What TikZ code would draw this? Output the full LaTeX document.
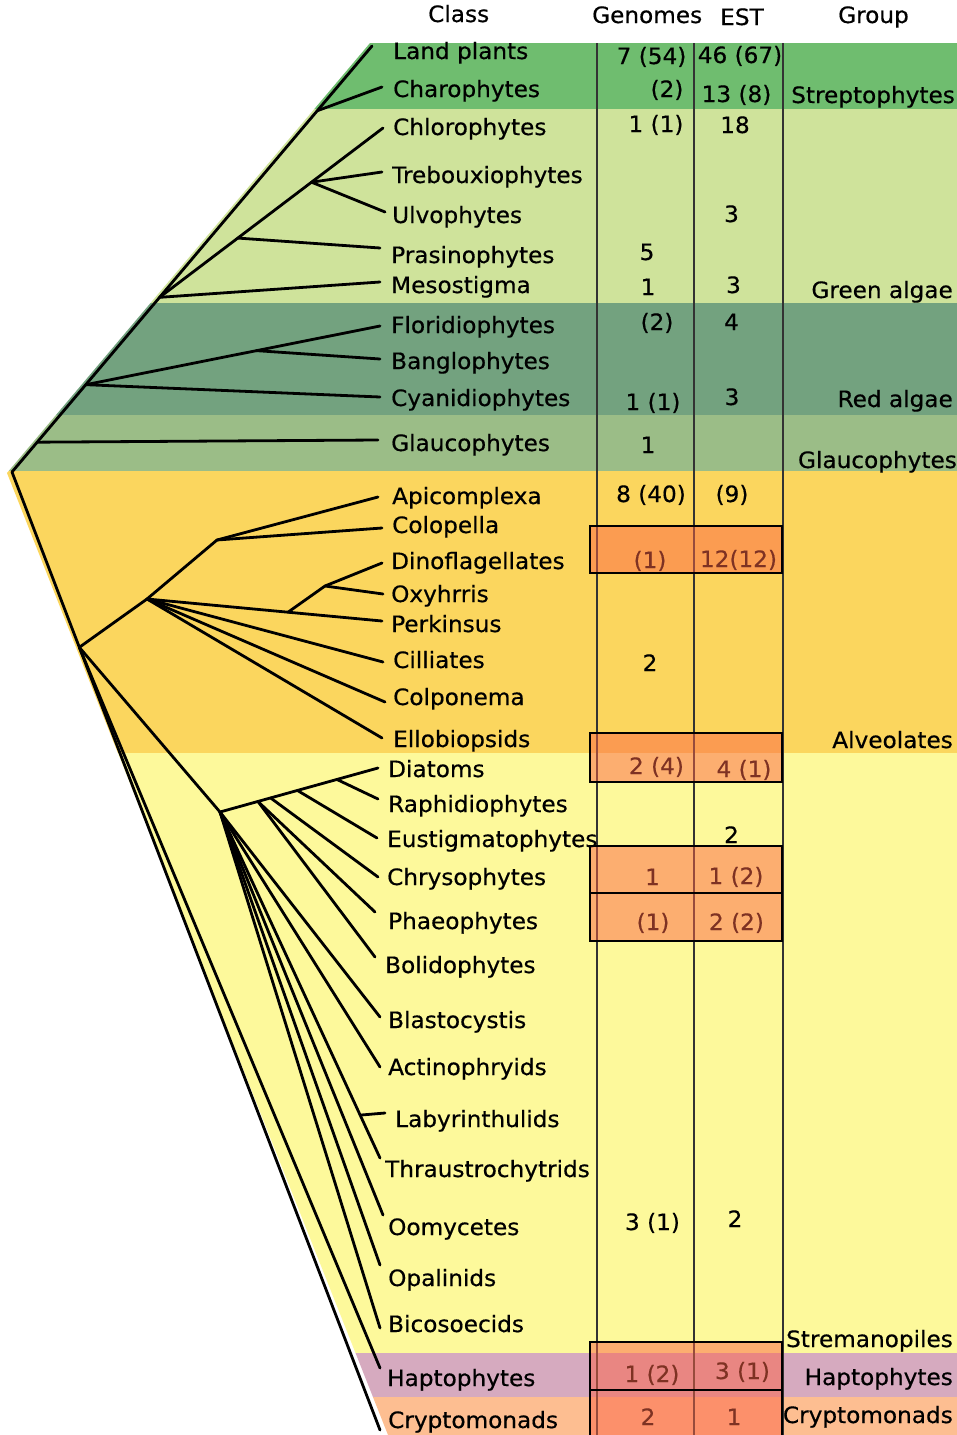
\documentclass[tikz,border=0pt]{standalone}
\usepackage{fontspec}
\setmainfont{DejaVu Sans}[FakeStretch=1.03, FakeBold=0.5]
\usepackage{xcolor}
\usetikzlibrary{calc}

\definecolor{plantsgreen}{RGB}{111,189,111}
\definecolor{algaegreen}{RGB}{207,227,155}
\definecolor{redalgae}{RGB}{115,162,127}
\definecolor{glaucgreen}{RGB}{155,189,135}
\definecolor{alvorange}{RGB}{251,214,94}
\definecolor{stramyellow}{RGB}{253,249,155}
\definecolor{haptpink}{RGB}{214,170,191}
\definecolor{cryptsalmon}{RGB}{253,190,145}
\definecolor{hilite}{RGB}{252,100,70}

\begin{document}
\begin{tikzpicture}[
    x=1pt, y=-1pt,
    every node/.append style={inner sep=0pt, font=\fontsize{22.5}{27}\selectfont},
    hdr/.style={anchor=base west},
    leaf/.style={anchor=base west},
    val/.style={anchor=base},
    grp/.style={anchor=base east},
    branch/.style={line width=2.8pt, line cap=round, line join=round},
    rule/.style={draw=black!80, line width=1.4pt},
    hl/.style={draw=black, line width=1.9pt, fill=hilite, fill opacity=0.5}
]
\useasboundingbox (0, 0) rectangle (957, 1435);

% --- Background bands (clipped to the tree outline) ---
\begin{scope}
\clip (370, 43) -- (957, 43) -- (957, 1435) -- (388, 1435) -- (7, 473) -- cycle;
\fill[plantsgreen] (0, 43) rectangle (957, 109);
\fill[algaegreen]  (0, 109) rectangle (957, 303);
\fill[redalgae]    (0, 303) rectangle (957, 415);
\fill[glaucgreen]  (0, 415) rectangle (957, 471);
\fill[alvorange]   (0, 471) rectangle (957, 753);
\fill[stramyellow] (0, 753) rectangle (957, 1353);
\fill[haptpink]    (0, 1353) rectangle (957, 1397);
\fill[cryptsalmon] (0, 1397) rectangle (957, 1435);
\end{scope}

% --- Column rules ---
\draw[rule] (597, 43) -- (597, 1435);
\draw[rule] (694, 43) -- (694, 1435);
\draw[rule] (783, 43) -- (783, 1435);

% --- Headers ---
\node[hdr] (hClass) at (428, 22) {Class};
\node[hdr] (hGen)   at (592, 23) {Genomes};
\node[hdr] (hEst)   at (720, 25) {EST};
\node[hdr] (hGrp)   at (838, 23) {Group};

% === Tree: plants side ===
\coordinate (nRoot) at (12, 472);
\coordinate (tLand) at (372, 46);
\coordinate (tChar) at (382, 87);
\coordinate (tChlo) at (383, 128);
\coordinate (tTreb) at (382, 172);
\coordinate (tUlvo) at (385, 212);
\coordinate (tPras) at (380, 248);
\coordinate (tMeso) at (380, 282);
\coordinate (tFlor) at (380, 326);
\coordinate (tBang) at (380, 359);
\coordinate (tCyan) at (380, 397);
\coordinate (tGlau) at (378, 440);
\coordinate (nStrep) at ($(nRoot)!0.848!(tLand)$);
\coordinate (nGreen) at ($(nRoot)!0.41!(tLand)$);
\coordinate (nRed)   at ($(nRoot)!0.205!(tLand)$);
\coordinate (nGlau)  at ($(nRoot)!0.07!(tLand)$);
\coordinate (nPras)  at ($(nGreen)!0.35!(tChlo)$);
\coordinate (nTU)    at ($(nGreen)!0.68!(tChlo)$);
\coordinate (nFB)    at ($(nRed)!0.58!(tFlor)$);

\draw[branch] (nRoot) -- (tLand);
\draw[branch] (nStrep) -- (tChar);
\draw[branch] (nGreen) -- (tChlo);
\draw[branch] (nTU) -- (tTreb);
\draw[branch] (nTU) -- (tUlvo);
\draw[branch] (nPras) -- (tPras);
\draw[branch] (nGreen) -- (tMeso);
\draw[branch] (nRed) -- (tFlor);
\draw[branch] (nFB) -- (tBang);
\draw[branch] (nRed) -- (tCyan);
\draw[branch] (nGlau) -- (tGlau);

% === Tree: chromalveolate side ===
\coordinate (tCryp) at (380, 1430);
\coordinate (tHapt) at (380, 1368);
\coordinate (nChAl) at ($(nRoot)!0.183!(tCryp)$);
\coordinate (nAlv)  at (147, 599);
\coordinate (nApCo) at (217, 540);
\coordinate (tApic) at (378, 497);
\coordinate (tColo) at (382, 528);
\coordinate (tPerk) at (382, 621);
\coordinate (nDO)   at ($(nAlv)!0.6!(tPerk)$);
\coordinate (nDx)   at (325, 586);
\coordinate (tDino) at (382, 563);
\coordinate (tOxy)  at (383, 594);
\coordinate (tCill) at (383, 662);
\coordinate (tColp) at (385, 702);
\coordinate (tEllo) at (382, 738);

\draw[branch] (nRoot) -- (nChAl) -- (tCryp);
\draw[branch] (nChAl) -- (tHapt);
\draw[branch] (nChAl) -- (nAlv);
\draw[branch] (nAlv) -- (nApCo) -- (tApic);
\draw[branch] (nApCo) -- (tColo);
\draw[branch] (nAlv) -- (tPerk);
\draw[branch] (nDO) -- (nDx) -- (tDino);
\draw[branch] (nDx) -- (tOxy);
\draw[branch] (nAlv) -- (tCill);
\draw[branch] (nAlv) -- (tColp);
\draw[branch] (nAlv) -- (tEllo);

% --- Stramenopiles ---
\coordinate (nStram) at (220, 812);
\coordinate (tDiat) at (378, 768);
\coordinate (tRaph) at (378, 799);
\coordinate (tEust) at (377, 838);
\coordinate (tChry) at (378, 877);
\coordinate (tPhae) at (375, 912);
\coordinate (tBoli) at (375, 957);
\coordinate (tBlas) at (380, 1017);
\coordinate (tActi) at (380, 1067);
\coordinate (tThra) at (380, 1158);
\coordinate (tLaby) at (385, 1113);
\coordinate (tOomy) at (383, 1215);
\coordinate (tOpal) at (380, 1265);
\coordinate (tBico) at (380, 1328);
\coordinate (nRa) at ($(nStram)!0.74!(tDiat)$);
\coordinate (nEu) at ($(nStram)!0.49!(tDiat)$);
\coordinate (nCh) at ($(nStram)!0.32!(tDiat)$);
\coordinate (nPB) at ($(nStram)!0.24!(tDiat)$);
\coordinate (nLT) at ($(nStram)!0.876!(tThra)$);

\draw[branch] (nChAl) -- (nStram) -- (tDiat);
\draw[branch] (nRa) -- (tRaph);
\draw[branch] (nEu) -- (tEust);
\draw[branch] (nCh) -- (tChry);
\draw[branch] (nPB) -- (tPhae);
\draw[branch] (nPB) -- (tBoli);
\draw[branch] (nStram) -- (tBlas);
\draw[branch] (nStram) -- (tActi);
\draw[branch] (nStram) -- (tThra);
\draw[branch] (nLT) -- (tLaby);
\draw[branch] (nStram) -- (tOomy);
\draw[branch] (nStram) -- (tOpal);
\draw[branch] (nStram) -- (tBico);

% === Class labels ===
\node[leaf] (lLand) at (393, 59) {Land plants};
\node[leaf] (lChar) at (393, 97) {Charophytes};
\node[leaf] (lChlo) at (393, 135) {Chlorophytes};
\node[leaf] (lTreb) at (392, 183) {Trebouxiophytes};
\node[leaf] (lUlvo) at (392, 223) {Ulvophytes};
\node[leaf] (lPras) at (391, 263) {Prasinophytes};
\node[leaf] (lMeso) at (391, 293) {Mesostigma};
\node[leaf] (lFlor) at (391, 333) {Floridiophytes};
\node[leaf] (lBang) at (391, 369) {Banglophytes};
\node[leaf] (lCyan) at (391, 406) {Cyanidiophytes};
\node[leaf] (lGlau) at (391, 451) {Glaucophytes};
\node[leaf] (lApic) at (392, 504) {Apicomplexa};
\node[leaf] (lColo) at (392, 533) {Colopella};
\node[leaf] (lDino) at (391, 569) {Dinoflagellates};
\node[leaf] (lOxy)  at (391, 602) {Oxyhrris};
\node[leaf] (lPerk) at (391, 632) {Perkinsus};
\node[leaf] (lCill) at (393, 668) {Cilliates};
\node[leaf] (lColp) at (393, 705) {Colponema};
\node[leaf] (lEllo) at (393, 747) {Ellobiopsids};
\node[leaf] (lDiat) at (388, 777) {Diatoms};
\node[leaf] (lRaph) at (388, 812) {Raphidiophytes};
\node[leaf] (lEust) at (387, 847) {Eustigmatophytes};
\node[leaf] (lChry) at (387, 885) {Chrysophytes};
\node[leaf] (lPhae) at (388, 929) {Phaeophytes};
\node[leaf] (lBoli) at (385, 973) {Bolidophytes};
\node[leaf] (lBlas) at (388, 1028) {Blastocystis};
\node[leaf] (lActi) at (388, 1075) {Actinophryids};
\node[leaf] (lLaby) at (395, 1127) {Labyrinthulids};
\node[leaf] (lThra) at (385, 1177) {Thraustrochytrids};
\node[leaf] (lOomy) at (388, 1235) {Oomycetes};
\node[leaf] (lOpal) at (388, 1286) {Opalinids};
\node[leaf] (lBico) at (388, 1332) {Bicosoecids};
\node[leaf] (lHapt) at (387, 1386) {Haptophytes};
\node[leaf] (lCryp) at (388, 1428) {Cryptomonads};

% === Genomes column ===
\node[val] (gnLand) at (651.5, 64) {7 (54)};
\node[val] (gnChar) at (667, 97) {(2)};
\node[val] (gnChlo) at (656, 132) {1 (1)};
\node[val] (gnPras) at (647, 260) {5};
\node[val] (gnMeso) at (648, 295) {1};
\node[val] (gnFlor) at (657, 330) {(2)};
\node[val] (gnCyan) at (653, 410) {1 (1)};
\node[val] (gnGlau) at (648, 453) {1};
\node[val] (gnApic) at (651, 502) {8 (40)};
\node[val] (gnDino) at (650, 568) {(1)};
\node[val] (gnCill) at (650, 671) {2};
\node[val] (gnDiat) at (656.5, 774) {2 (4)};
\node[val] (gnChry) at (652.5, 885) {1};
\node[val] (gnPhae) at (653, 930) {(1)};
\node[val] (gnOomy) at (652.5, 1230) {3 (1)};
\node[val] (gnHapt) at (652, 1382) {1 (2)};
\node[val] (gnCryp) at (648, 1425) {2};

% === EST column ===
\node[val] (esLand) at (740, 63) {46 (67)};
\node[val] (esChar) at (736.5, 102) {13 (8)};
\node[val] (esChlo) at (735, 133) {18};
\node[val] (esUlvo) at (731.5, 222) {3};
\node[val] (esMeso) at (733.5, 293) {3};
\node[val] (esFlor) at (731.5, 330) {4};
\node[val] (esCyan) at (732, 405) {3};
\node[val] (esApic) at (732, 502) {(9)};
\node[val] (esDino) at (738.5, 567) {12(12)};
\node[val] (esDiat) at (744, 777) {4 (1)};
\node[val] (esEust) at (731.5, 843) {2};
\node[val] (esChry) at (736, 884) {1 (2)};
\node[val] (esPhae) at (736.5, 930) {2 (2)};
\node[val] (esOomy) at (735, 1227) {2};
\node[val] (esHapt) at (742.5, 1379) {3 (1)};
\node[val] (esCryp) at (734, 1425) {1};

% === Group column ===
\node[grp] (gpStrep) at (955, 103) {Streptophytes};
\node[grp] (gpGreen) at (953, 298) {Green algae};
\node[grp] (gpRed)   at (953, 407) {Red algae};
\node[grp] (gpGlau)  at (957, 468) {Glaucophytes};
\node[grp] (gpAlv)   at (953, 748) {Alveolates};
\node[grp] (gpStram) at (953, 1347) {Stremanopiles};
\node[grp] (gpHapt)  at (953, 1385) {Haptophytes};
\node[grp] (gpCryp)  at (953, 1423) {Cryptomonads};

% --- Highlight boxes (drawn over the table) ---
\draw[hl] (590, 526) rectangle (782, 573);
\draw[hl] (590, 733) rectangle (782, 782);
\draw[hl] (590, 846) rectangle (782, 893);
\draw[hl] (590, 893) rectangle (782, 941);
\draw[hl] (590, 1342) rectangle (782, 1390);
\draw[hl] (590, 1390) rectangle (782, 1445);
\end{tikzpicture}
\end{document}
